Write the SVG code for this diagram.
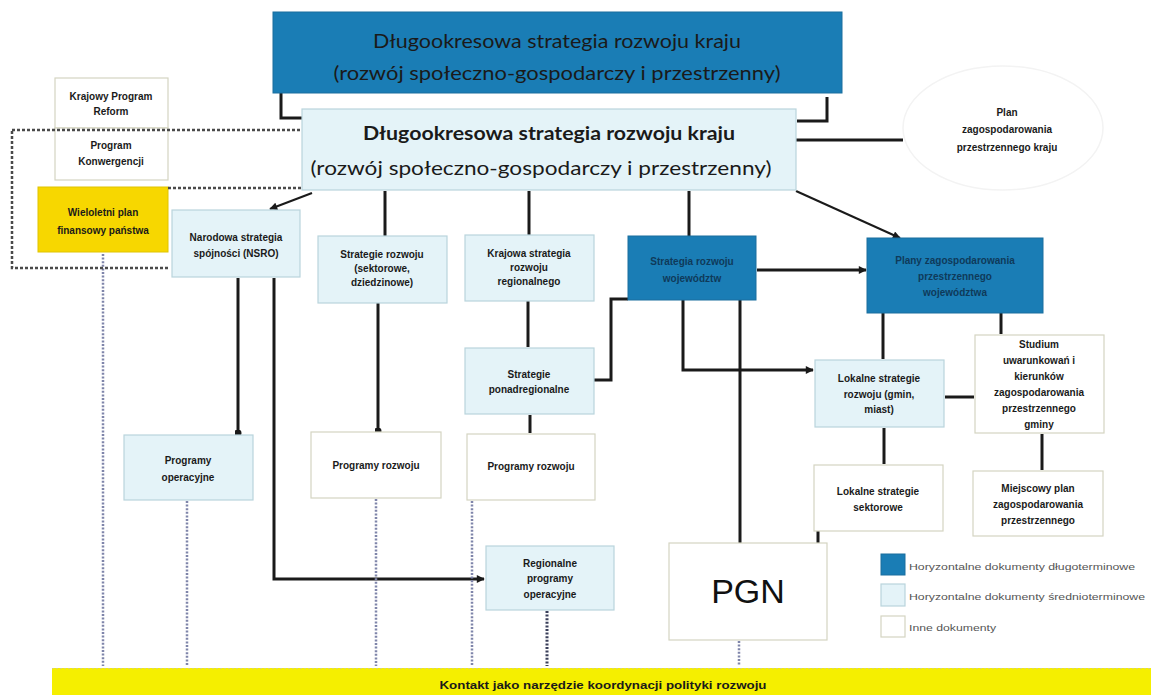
<svg xmlns="http://www.w3.org/2000/svg" width="1151" height="695" viewBox="0 0 1151 695">
<style>
  .dark { fill: #1a7db5; stroke: #1a6f9e; stroke-width: 1; }
  .light { fill: #e4f3f8; stroke: #b9d4dc; stroke-width: 1.2; }
  .white { fill: #ffffff; stroke: #d4d4c2; stroke-width: 1.2; }
  .lbl { font-family: "Liberation Sans", Arial, sans-serif; font-size: 10px; font-weight: bold; fill: #1a1a1a; text-anchor: middle; }
  .lblw { font-family: "Liberation Sans", Arial, sans-serif; font-size: 10px; font-weight: bold; fill: #0f3a5a; text-anchor: middle; }
  .title { font-family: Lato, "Liberation Sans", Arial, sans-serif; fill: #1a1a1a; text-anchor: middle; }
  .leg { font-family: "Liberation Sans", Arial, sans-serif; font-size: 9px; fill: #555555; }
  .conn { fill: none; stroke: #1a1a1a; stroke-width: 3; }
  .thin { fill: none; stroke: #1a1a1a; stroke-width: 2; }
  .dot { fill: none; stroke: #7f85aa; stroke-width: 2.5; stroke-dasharray: 2 1.6; }
  .dotdark { fill: none; stroke: #3a3f5a; stroke-width: 3; stroke-dasharray: 2 1.6; }
  .dash { fill: none; stroke: #4a4a4a; stroke-width: 2.5; stroke-dasharray: 3 2; }
</style>
<defs>
  <marker id="arr" viewBox="0 0 10 10" refX="9" refY="5" markerWidth="9" markerHeight="8" markerUnits="userSpaceOnUse" orient="auto">
    <path d="M0,0 L10,5 L0,10 z" fill="#1a1a1a"/>
  </marker>
  <marker id="dotm" viewBox="0 0 10 10" refX="5" refY="5" markerWidth="7" markerHeight="7" markerUnits="userSpaceOnUse">
    <circle cx="5" cy="5" r="5" fill="#1a1a1a"/>
  </marker>
</defs>
<rect x="0" y="0" width="1151" height="695" fill="#ffffff"/>

<!-- bottom bar -->
<g id="kontakt">
  <rect x="52" y="668" width="1099" height="27" fill="#f5ef00"/>
  <line x1="52" y1="668.5" x2="1151" y2="668.5" stroke="#d9d36a" stroke-width="1" stroke-dasharray="2 2"/>
  <text x="603" y="689" font-family="'Liberation Sans', Arial, sans-serif" font-size="11.5" font-weight="bold" fill="#1a1a1a" text-anchor="middle" textLength="327" lengthAdjust="spacingAndGlyphs">Kontakt jako narzędzie koordynacji polityki rozwoju</text>
</g>

<!-- connectors -->
<g id="connectors">
  <polyline class="conn" points="281,93 281,118 303,118"/>
  <polyline class="conn" points="827,97 827,121 797,121"/>
  <line class="conn" x1="796" y1="140" x2="903" y2="140"/>
  <line class="thin" x1="312" y1="193" x2="270" y2="209" marker-end="url(#arr)"/>
  <line class="thin" x1="796" y1="191" x2="900" y2="238" marker-end="url(#arr)"/>
  <line class="conn" x1="385" y1="191" x2="385" y2="236"/>
  <line class="conn" x1="529" y1="191" x2="529" y2="235"/>
  <line class="conn" x1="689" y1="191" x2="689" y2="236"/>
  <line class="conn" x1="238" y1="278" x2="238" y2="433" marker-end="url(#dotm)"/>
  <polyline class="conn" points="274,278 274,579 484,579" marker-end="url(#arr)"/>
  <line class="conn" x1="378" y1="303" x2="378" y2="431" marker-end="url(#dotm)"/>
  <line class="conn" x1="528" y1="301" x2="528" y2="347"/>
  <line class="conn" x1="530" y1="415" x2="530" y2="433"/>
  <polyline class="conn" points="594,380 611,380 611,299 628,299"/>
  <line class="conn" x1="757" y1="270" x2="866" y2="270" marker-end="url(#arr)"/>
  <polyline class="conn" points="683,300 683,370 813,370" marker-end="url(#arr)"/>
  <line class="conn" x1="740" y1="300" x2="740" y2="543"/>
  <line class="conn" x1="883" y1="313" x2="883" y2="359"/>
  <line class="conn" x1="1001" y1="313" x2="1001" y2="334"/>
  <line class="conn" x1="945" y1="397" x2="974" y2="397"/>
  <line class="conn" x1="884" y1="428" x2="884" y2="464"/>
  <line class="conn" x1="1042" y1="434" x2="1042" y2="470"/>
  <line class="conn" x1="818" y1="531" x2="818" y2="544"/>
  <line class="dot" x1="103" y1="254" x2="103" y2="666"/>
  <line class="dot" x1="187" y1="501" x2="187" y2="666"/>
  <line class="dot" x1="376" y1="499" x2="376" y2="666"/>
  <line class="dot" x1="472" y1="501" x2="472" y2="666"/>
  <line class="dotdark" x1="547" y1="611" x2="547" y2="666"/>
  <line class="dot" x1="739" y1="641" x2="739" y2="666"/>
</g>

<!-- top box -->
<g id="top-strategy">
  <rect class="dark" x="273" y="12" width="569" height="81"/>
  <text class="title" x="557" y="48" font-size="20" fill="#14324a" textLength="368" lengthAdjust="spacingAndGlyphs">Długookresowa strategia rozwoju kraju</text>
  <text class="title" x="557" y="80" font-size="20" fill="#14324a" textLength="447" lengthAdjust="spacingAndGlyphs">(rozwój społeczno-gospodarczy  i przestrzenny)</text>
</g>

<!-- second box -->
<g id="strategy-2">
  <rect class="light" x="302" y="109" width="494" height="81"/>
  <text class="title" x="549" y="140" font-size="19" font-weight="bold" textLength="372" lengthAdjust="spacingAndGlyphs">Długookresowa strategia rozwoju kraju</text>
  <text class="title" x="541" y="175" font-size="20" textLength="461" lengthAdjust="spacingAndGlyphs">(rozwój społeczno-gospodarczy  i przestrzenny)</text>
</g>

<g id="plan-kraju">
  <ellipse cx="1003" cy="128" rx="100" ry="62" fill="#ffffff" stroke="#f3f3f3" stroke-width="1.5"/>
  <text class="lbl" x="1007" y="116" font-size="9">Plan</text>
  <text class="lbl" x="1007" y="133" font-size="9">zagospodarowania</text>
  <text class="lbl" x="1007" y="151" font-size="9">przestrzennego kraju</text>
</g>

<g id="kpr">
  <rect class="white" x="55" y="78" width="113" height="50"/>
  <text class="lbl" x="111" y="100">Krajowy Program</text>
  <text class="lbl" x="111" y="115">Reform</text>
</g>
<g id="konwergencja">
  <rect class="white" x="55" y="128" width="113" height="52"/>
  <text class="lbl" x="111" y="149">Program</text>
  <text class="lbl" x="111" y="165">Konwergencji</text>
</g>
<g id="wpfp">
  <rect x="38" y="187" width="130" height="65" fill="#f7d700" stroke="#e0c400" stroke-width="1"/>
  <text class="lbl" x="103" y="216">Wieloletni plan</text>
  <text class="lbl" x="103" y="234">finansowy państwa</text>
</g>

<!-- dashed grouping region -->
<g id="dashed-region">
  <path class="dash" d="M12,130 L300,130 M168,188 L302,188 M168,268 L12,268 L12,130"/>
</g>

<g id="nsro">
  <rect class="light" x="172" y="210" width="128" height="67"/>
  <text class="lbl" x="236" y="241">Narodowa strategia</text>
  <text class="lbl" x="236" y="257">spójności (NSRO)</text>
</g>
<g id="strategie-rozwoju">
  <rect class="light" x="318" y="236" width="129" height="67"/>
  <text class="lbl" x="382" y="258">Strategie rozwoju</text>
  <text class="lbl" x="382" y="272">(sektorowe,</text>
  <text class="lbl" x="382" y="286">dziedzinowe)</text>
</g>
<g id="ksrr">
  <rect class="light" x="465" y="235" width="129" height="66"/>
  <text class="lbl" x="529" y="257">Krajowa strategia</text>
  <text class="lbl" x="529" y="271">rozwoju</text>
  <text class="lbl" x="529" y="285">regionalnego</text>
</g>
<g id="ponadregionalne">
  <rect class="light" x="465" y="348" width="129" height="66"/>
  <text class="lbl" x="529" y="378">Strategie</text>
  <text class="lbl" x="529" y="393">ponadregionalne</text>
</g>
<g id="srw">
  <rect class="dark" x="628" y="236" width="128" height="64"/>
  <text class="lblw" x="692" y="265">Strategia rozwoju</text>
  <text class="lblw" x="692" y="282">województw</text>
</g>
<g id="pzpw">
  <rect class="dark" x="867" y="238" width="176" height="75"/>
  <text class="lblw" x="955" y="264">Plany zagospodarowania</text>
  <text class="lblw" x="955" y="280">przestrzennego</text>
  <text class="lblw" x="955" y="296">województwa</text>
</g>

<g id="programy-operacyjne">
  <rect class="light" x="124" y="435" width="129" height="65"/>
  <text class="lbl" x="188" y="464">Programy</text>
  <text class="lbl" x="188" y="481">operacyjne</text>
</g>
<g id="programy-rozwoju-1">
  <rect class="white" x="311" y="432" width="130" height="66"/>
  <text class="lbl" x="376" y="469">Programy rozwoju</text>
</g>
<g id="programy-rozwoju-2">
  <rect class="white" x="467" y="434" width="128" height="66"/>
  <text class="lbl" x="531" y="470">Programy rozwoju</text>
</g>
<g id="rpo">
  <rect class="light" x="486" y="546" width="128" height="64"/>
  <text class="lbl" x="550" y="567">Regionalne</text>
  <text class="lbl" x="550" y="582">programy</text>
  <text class="lbl" x="550" y="598">operacyjne</text>
</g>

<g id="lokalne-strategie-rozwoju">
  <rect class="light" x="815" y="360" width="129" height="67"/>
  <text class="lbl" x="879" y="382">Lokalne strategie</text>
  <text class="lbl" x="879" y="398">rozwoju (gmin,</text>
  <text class="lbl" x="879" y="413">miast)</text>
</g>
<g id="studium">
  <rect class="white" x="975" y="335" width="129" height="98"/>
  <text class="lbl" x="1039" y="348">Studium</text>
  <text class="lbl" x="1039" y="364">uwarunkowań i</text>
  <text class="lbl" x="1039" y="380">kierunków</text>
  <text class="lbl" x="1039" y="396">zagospodarowania</text>
  <text class="lbl" x="1039" y="412">przestrzennego</text>
  <text class="lbl" x="1039" y="428">gminy</text>
</g>
<g id="lokalne-sektorowe">
  <rect class="white" x="814" y="465" width="129" height="66"/>
  <text class="lbl" x="878" y="495">Lokalne strategie</text>
  <text class="lbl" x="878" y="511">sektorowe</text>
</g>
<g id="miejscowy-plan">
  <rect class="white" x="973" y="471" width="130" height="65"/>
  <text class="lbl" x="1038" y="492">Miejscowy plan</text>
  <text class="lbl" x="1038" y="508">zagospodarowania</text>
  <text class="lbl" x="1038" y="524">przestrzennego</text>
</g>
<g id="pgn">
  <rect class="white" x="669" y="543" width="158" height="97"/>
  <text x="748" y="603" font-family="'Liberation Sans', Arial, sans-serif" font-size="34" fill="#111111" text-anchor="middle">PGN</text>
</g>

<g id="legend">
  <rect class="dark" x="881" y="554" width="24" height="21"/>
  <rect class="light" x="881" y="584" width="24" height="22"/>
  <rect class="white" x="881" y="616" width="24" height="21"/>
  <text class="leg" x="909" y="570" textLength="226" lengthAdjust="spacingAndGlyphs">Horyzontalne dokumenty długoterminowe</text>
  <text class="leg" x="909" y="600" textLength="236" lengthAdjust="spacingAndGlyphs">Horyzontalne dokumenty średnioterminowe</text>
  <text class="leg" x="909" y="631" textLength="87" lengthAdjust="spacingAndGlyphs">Inne dokumenty</text>
</g>
</svg>
